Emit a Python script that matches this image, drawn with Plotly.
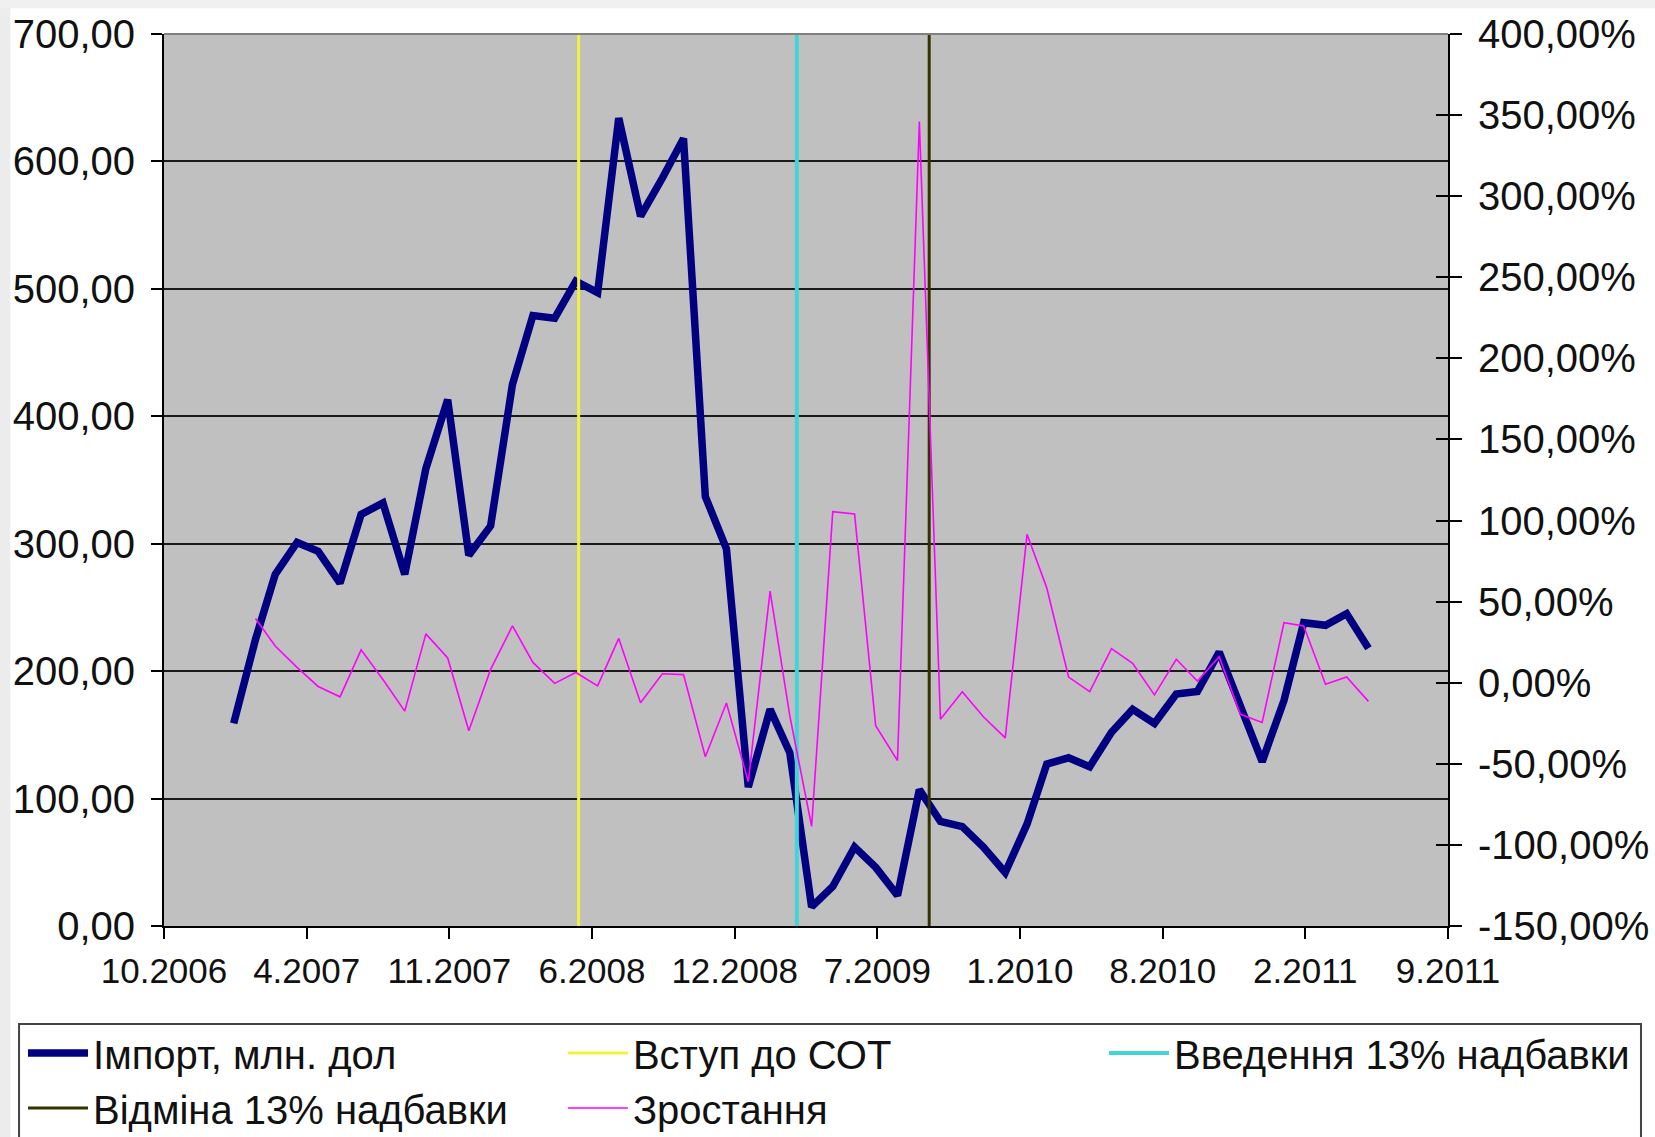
import plotly.graph_objects as go
import pandas as pd

# ---- data -------------------------------------------------------------
months = pd.date_range("2007-01-01", "2011-06-01", freq="MS")

import_vals = [159, 225, 276, 301, 294, 269, 323, 332, 276, 359, 413, 291,
               314, 425, 479, 477, 506, 497, 634, 557, 587, 618, 337, 296,
               109, 170, 136, 15, 31, 62, 46, 24, 107, 82, 78, 62,
               42, 80, 127, 132, 125, 152, 170, 159, 182, 184, 215, 173,
               129, 177, 238, 236, 245, 218]

growth_vals = [None, 39.6, 22.6, 9.5, -2.3, -8.7, 20.3, 2.0, -17.5, 30.1, 15.3, -29.6,
               8.2, 35.0, 12.5, -0.4, 6.3, -1.9, 27.3, -12.3, 5.5, 5.0, -45.6, -12.5,
               -61.0, 56.5, -20.5, -88.5, 105.5, 104.0, -26.5, -48.0, 346.0, -22.5, -5.5, -21.0,
               -34.0, 91.5, 58.5, 3.5, -5.5, 21.0, 12.0, -7.5, 14.5, 1.0, 16.0, -19.5,
               -24.5, 37.0, 35.0, -1.0, 3.5, -11.5]

event_names = ["Вступ до СОТ", "Введення 13% надбавки", "Відміна 13% надбавки"]
event_dates = ["2008-05-05", "2009-03-11", "2009-09-15"]
event_colors = ["#F2F23A", "#40D6D6", "#333300"]
event_widths = [3, 4, 3]
event_legends = ["legend2", "legend3", "legend"]

x_range = ["2006-09-24", "2011-09-22"]
x_ticktext = ["10.2006", "4.2007", "11.2007", "6.2008", "12.2008",
              "7.2009", "1.2010", "8.2010", "2.2011", "9.2011"]

y_left_vals = [0, 100, 200, 300, 400, 500, 600, 700]
y_left_text = ["0,00", "100,00", "200,00", "300,00", "400,00", "500,00", "600,00", "700,00"]
y_right_vals = [-150, -100, -50, 0, 50, 100, 150, 200, 250, 300, 350, 400]
y_right_text = ["-150,00%", "-100,00%", "-50,00%", "0,00%", "50,00%", "100,00%",
                "150,00%", "200,00%", "250,00%", "300,00%", "350,00%", "400,00%"]

# ---- figure -----------------------------------------------------------
FONT = "Liberation Sans, Arial, sans-serif"
fig = go.Figure()

fig.add_trace(go.Scatter(x=months, y=import_vals, mode="lines",
                         name="Імпорт, млн. дол", legend="legend", legendrank=1,
                         line=dict(color="#000080", width=7.5), yaxis="y"))

for name, d, c, w, lg in zip(event_names, event_dates, event_colors, event_widths, event_legends):
    fig.add_trace(go.Scatter(x=[d, d], y=[y_left_vals[0], y_left_vals[-1]], mode="lines",
                             name=name, legend=lg, legendrank=2,
                             line=dict(color=c, width=w), yaxis="y"))

fig.add_trace(go.Scatter(x=months, y=growth_vals, mode="lines", name="Зростання",
                         legend="legend2", legendrank=3,
                         line=dict(color="#FF00FF", width=1.6), yaxis="y2"))

# dummy trace to activate yaxis3 (inner tick marks of right axis)
fig.add_trace(go.Scatter(x=[months[0]], y=[None], yaxis="y3", showlegend=False,
                         hoverinfo="skip"))

tickpos = pd.date_range(x_range[0], x_range[1], periods=len(x_ticktext))

legend_common = dict(orientation="v", yanchor="top", xanchor="left", y=-0.106,
                     bgcolor="rgba(0,0,0,0)", borderwidth=0,
                     font=dict(size=40, family=FONT, color="#111111"),
                     itemwidth=60, traceorder="normal")

fig.update_layout(
    width=1655, height=1137,
    margin=dict(l=164, r=207, t=34, b=211, autoexpand=False),
    paper_bgcolor="white",
    plot_bgcolor="#C0C0C0",
    font=dict(family=FONT, color="#111111"),
    showlegend=True,
    xaxis=dict(type="date", range=x_range, tickvals=tickpos, ticktext=x_ticktext,
               showgrid=False, zeroline=False, showline=True, linecolor="black",
               linewidth=2, ticks="outside", ticklen=11, tickwidth=2, tickcolor="black",
               tickfont=dict(size=35), ticklabelstandoff=2),
    yaxis=dict(range=[0, 700], tickvals=y_left_vals, ticktext=y_left_text,
               showgrid=True, gridcolor="#1a1a1a", gridwidth=1.5, zeroline=False,
               showline=True, linecolor="black", linewidth=2, ticks="outside",
               ticklen=11, tickwidth=2, tickcolor="black", tickfont=dict(size=40),
               ticklabelstandoff=8),
    yaxis2=dict(range=[-150, 400], tickvals=y_right_vals, ticktext=y_right_text,
                overlaying="y", side="right", showgrid=False, zeroline=False,
                showline=True, linecolor="black", linewidth=2, ticks="outside",
                ticklen=12, tickwidth=2, tickcolor="black", tickfont=dict(size=40),
                ticklabelstandoff=8),
    yaxis3=dict(range=[-150, 400], tickvals=y_right_vals, overlaying="y", side="right",
                showgrid=False, zeroline=False, showline=False, ticks="inside",
                ticklen=12, tickwidth=2, tickcolor="black", showticklabels=False),
    legend=dict(x=-0.1098, **legend_common),
    legend2=dict(x=0.3107, **legend_common),
    legend3=dict(x=0.7321, **legend_common),
    shapes=[
        # top border of plot area
        dict(type="line", xref="paper", yref="paper", x0=0, x1=1, y0=1, y1=1,
             line=dict(color="#808080", width=2)),
        # legend frame
        dict(type="rect", xref="paper", yref="paper", x0=-0.1129, x1=1.1503,
             y0=-0.1099, y1=-0.26, line=dict(color="#444444", width=2),
             fillcolor="rgba(0,0,0,0)", layer="below"),
        # light grey slide strips (left and top)
        dict(type="rect", xref="paper", yref="paper", x0=-0.13, x1=-0.1197,
             y0=-0.26, y1=1.05, line=dict(width=0), fillcolor="#ECECEC", layer="below"),
        dict(type="rect", xref="paper", yref="paper", x0=-0.13, x1=1.2,
             y0=1.029, y1=1.05, line=dict(width=0), fillcolor="#F0F0F0", layer="below"),
    ],
)

fig.write_html("out.html", config={"displayModeBar": False},
               post_script="document.body.style.margin='0px';document.body.style.padding='0px';")
